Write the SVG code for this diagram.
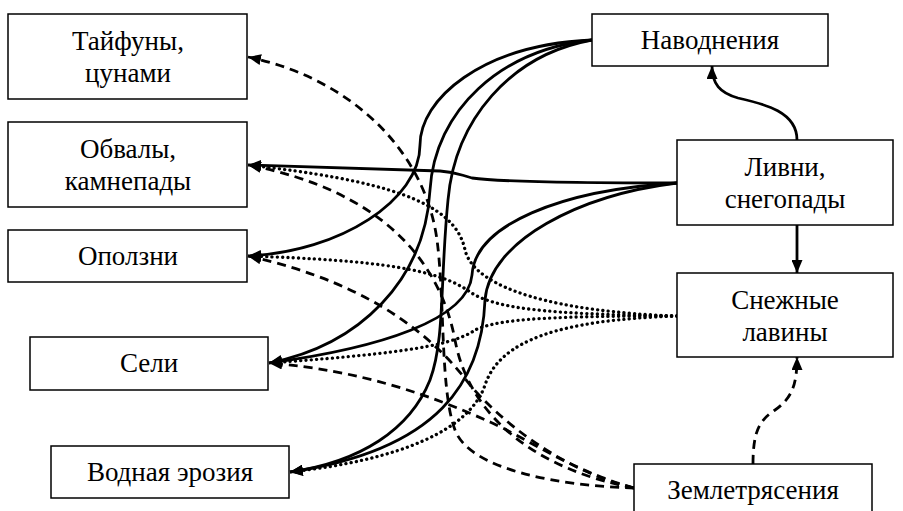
<svg xmlns="http://www.w3.org/2000/svg" width="903" height="511" viewBox="0 0 903 511">
<style>
.box{fill:#fff;stroke:#000;stroke-width:1.5}
.t{font-family:'Liberation Serif','DejaVu Serif',serif;font-size:27px;text-anchor:middle;fill:#000}
.c{fill:none;stroke:#000;stroke-width:2.8}
.solid{marker-end:url(#ah)}
.dash{stroke-width:2.8;stroke-dasharray:9 6;marker-end:url(#ah)}
.dot{stroke-width:3.3;stroke-dasharray:0.1 5.2;stroke-linecap:round;marker-end:url(#ah)}
</style>
<defs>
<marker id="ah" viewBox="0 0 13 11" refX="13" refY="5.5" markerWidth="13" markerHeight="11" markerUnits="userSpaceOnUse" orient="auto">
<path d="M0,0 L13,5.5 L0,11 Z" fill="#000"/>
</marker>
</defs>
<g id="connectors">
<path class="c solid" d="M592,40 C480,45 420,100 420,145 C420,200 340,252 248,256"/>
<path class="c solid" d="M592,40 C500,50 435,110 430,190 C425,280 360,345 269,363"/>
<path class="c solid" d="M592,40 C510,55 455,120 448,200 C440,280 445,340 430,380 C410,430 360,462 290,472"/>
<path class="c solid" d="M677,183 C600,183 500,182 472,178 C460,175 457,172 440,171 L248,165"/>
<path class="c solid" d="M677,183 C560,190 475,225 472,275 C468,320 380,348 269,363"/>
<path class="c solid" d="M677,183 C580,195 490,240 485,300 C482,380 440,450 290,472"/>
<path class="c solid" d="M797,140 C797,112 765,104 738,98 C720,93 712,84 712,66"/>
<path class="c solid" d="M797,225 L797,273"/>
<path class="c dot" d="M677,316 C560,312 475,290 465,250 C455,200 380,180 248,165"/>
<path class="c dot" d="M677,316 C570,314 500,312 470,292 C440,270 380,260 248,256"/>
<path class="c dot" d="M677,316 C560,316 500,318 475,330 C450,348 380,355 269,363"/>
<path class="c dot" d="M677,316 C560,320 500,340 485,385 C470,430 400,460 290,472"/>
<path class="c dash" d="M634,488 C560,486 470,470 455,430 C440,390 445,300 437,240 C425,150 350,78 248,57"/>
<path class="c dash" d="M634,488 C540,470 470,420 455,340 C440,260 380,190 248,165"/>
<path class="c dash" d="M634,488 C560,470 500,420 470,385 C440,345 380,285 248,256"/>
<path class="c dash" d="M634,488 C570,470 530,440 490,422 C430,395 360,370 269,363"/>
<path class="c dash" d="M753,464 C753,430 760,420 775,410 C792,398 797,385 797,357"/>
</g>
<g id="n-taifuny"><rect class="box" x="8" y="14" width="239" height="85"/><text class="t" x="128" y="50">Тайфуны,</text><text class="t" x="128" y="82">цунами</text></g>
<g id="n-obvaly"><rect class="box" x="8" y="122" width="239" height="85"/><text class="t" x="128" y="158">Обвалы,</text><text class="t" x="128" y="190">камнепады</text></g>
<g id="n-opolzni"><rect class="box" x="8" y="230" width="239" height="52"/><text class="t" x="128" y="265">Оползни</text></g>
<g id="n-seli"><rect class="box" x="30" y="337" width="238" height="53"/><text class="t" x="149" y="372">Сели</text></g>
<g id="n-erosia"><rect class="box" x="51" y="446" width="238" height="52"/><text class="t" x="170" y="481">Водная эрозия</text></g>
<g id="n-navodnenia"><rect class="box" x="592" y="14" width="236" height="52"/><text class="t" x="710" y="49">Наводнения</text></g>
<g id="n-livni"><rect class="box" x="677" y="140" width="216" height="85"/><text class="t" x="785" y="176">Ливни,</text><text class="t" x="785" y="208">снегопады</text></g>
<g id="n-laviny"><rect class="box" x="677" y="273" width="216" height="84"/><text class="t" x="785" y="309">Снежные</text><text class="t" x="785" y="341">лавины</text></g>
<g id="n-zemletr"><rect class="box" x="634" y="464" width="238" height="52"/><text class="t" x="753" y="499">Землетрясения</text></g>
</svg>
